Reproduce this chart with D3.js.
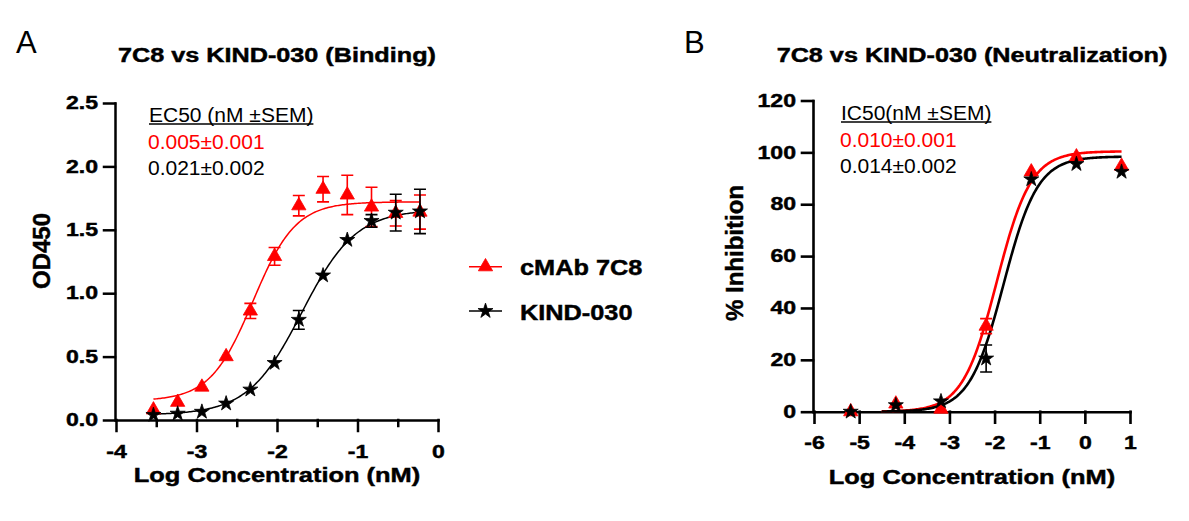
<!DOCTYPE html>
<html lang="en">
<head>
<meta charset="UTF-8">
<title>7C8 vs KIND-030</title>
<script src="https://d3js.org/d3.v7.min.js"></script>
<style>
    body, html { margin: 0; padding: 0; background: #fff; }
    svg text { font-family: "Liberation Sans", Arial, sans-serif; }
    svg text.heavy { stroke: #000; stroke-width: 0.45px; }
</style>
</head>
<body>
<div id="chart"></div>
<script>
    // Panel A - binding (OD450)
    const logConcA = [-3.535, -3.234, -2.933, -2.632, -2.331, -2.030, -1.729, -1.428, -1.127, -0.826, -0.525, -0.224];
    const odMab = [0.08, 0.14, 0.26, 0.50, 0.86, 1.29, 1.69, 1.82, 1.775, 1.68, 1.63, 1.64];
    const odMabSem = [0, 0, 0, 0, 0.06, 0.07, 0.08, 0.10, 0.155, 0.155, 0.10, 0.135];
    const odKind = [0.04, 0.05, 0.065, 0.13, 0.24, 0.45, 0.79, 1.14, 1.42, 1.57, 1.635, 1.645];
    const odKindSem = [0, 0, 0, 0, 0, 0, 0.074, 0, 0, 0.05, 0.145, 0.175];
    // 4PL fits: bottom, top, logEC50, hill
    const fitMabA = [0.15, 1.72, -2.30, 1.64];
    const fitKindA = [0.04, 1.66, -1.69, 1.30];
    const xTicksA = [-4, -3, -2, -1, 0];
    const xMinorA = [-3.5, -2.5, -1.5, -0.5];
    const yTicksA = [0, 0.5, 1.0, 1.5, 2.0, 2.5];

    // Panel B - neutralization (% inhibition)
    const logConcB = [-5.187, -4.187, -3.187, -2.187, -1.187, -0.187, 0.813];
    const inhMab = [0, 3, 1, 33, 92.5, 98.3, 94.7];
    const inhMabSem = [0, 0, 0, 2.9, 0, 0, 0];
    const inhKind = [0, 2.5, 4, 20.5, 89.6, 95.5, 92.5];
    const inhKindSem = [0, 0, 0, 5.2, 0, 0, 0];
    const fitMabB = [0, 100.4, -1.95, 1.15];
    const fitKindB = [0, 98.4, -1.80, 1.15];
    const xTicksB = [-6, -5, -4, -3, -2, -1, 0, 1];
    const yTicksB = [0, 20, 40, 60, 80, 100, 120];

    const seriesNames = ["cMAb 7C8", "KIND-030"];
    const RED = "#ff0000", BLACK = "#000";

    const svg = d3.select("#chart").append("svg")
        .attr("width", 1189)
        .attr("height", 521);

    // the bold lettering in the reference is wider than Arial, stretch it
    function stretch(sel, k) {
        sel.each(function() {
            const w = this.getComputedTextLength();
            d3.select(this).attr("textLength", w * k).attr("lengthAdjust", "spacingAndGlyphs");
        });
    }

    function fourPL(p, x) {
        return p[0] + (p[1] - p[0]) / (1 + Math.pow(10, (p[2] - x) * p[3]));
    }

    const marker = i => d3.symbol()
        .type(i === 0 ? d3.symbolTriangle : d3.symbolStar)
        .size(i === 0 ? 88 : 70);

    function drawPanel(o) {
        const x = d3.scaleLinear().domain(o.xDomain).range(o.xRange);
        const y = d3.scaleLinear().domain(o.yDomain).range(o.yRange);
        const g = svg.append("g");

        // axes
        const xAxis = g.append("g")
            .attr("transform", `translate(0,${y(0)})`)
            .call(d3.axisBottom(x).tickValues(o.xTicks).tickSize(11).tickSizeOuter(0)
                .tickPadding(14).tickFormat(d => String(d)));
        if (o.xMinor) {
            g.append("g")
                .attr("transform", `translate(0,${y(0)})`)
                .call(d3.axisBottom(x).tickValues(o.xMinor).tickSize(6).tickFormat(""))
                .call(a => a.select(".domain").remove());
        }
        const yAxis = g.append("g")
            .attr("transform", `translate(${o.xRange[0] - 1},0)`)
            .call(d3.axisLeft(y).tickValues(o.yTicks).tickSize(11).tickSizeOuter(0)
                .tickPadding(6).tickFormat(o.yFormat));

        g.selectAll(".domain, .tick line")
            .attr("stroke", "#000").attr("stroke-width", o.axisWidth).attr("stroke-linecap", "square");
        [xAxis, yAxis].forEach(a => a.attr("font-size", 18).attr("font-weight", "bold")
            .attr("font-family", "Liberation Sans, Arial, sans-serif"));
        g.selectAll(".tick text").attr("fill", "#000").attr("class", "heavy");
        stretch(g.selectAll(".tick text"), 1.28);

        // fitted curves
        const line = d3.line().x(d => x(d[0])).y(d => y(d[1]));
        o.fits.forEach((p, i) => {
            const pts = d3.range(0, 201).map(k => {
                const xv = o.curveRange[0] + (o.curveRange[1] - o.curveRange[0]) * k / 200;
                return [xv, fourPL(p, xv)];
            });
            g.append("path").attr("d", line(pts)).attr("fill", "none")
                .attr("stroke", o.colors[i]).attr("stroke-width", o.curveWidth);
        });

        // error bars + markers
        o.series.forEach((s, i) => {
            const col = o.colors[i];
            o.xs.forEach((xv, j) => {
                const sem = s.sem[j];
                if (!sem) return;
                const cx = x(xv);
                g.append("path")
                    .attr("d", `M${cx - 6},${y(s.v[j] + sem)}H${cx + 6}M${cx},${y(s.v[j] + sem)}V${y(s.v[j] - sem)}M${cx - 6},${y(s.v[j] - sem)}H${cx + 6}`)
                    .attr("stroke", col).attr("stroke-width", 1.6).attr("fill", "none");
            });
            g.selectAll(null).data(o.xs).enter().append("path")
                .attr("transform", (d, j) => `translate(${x(d)},${y(s.v[j])})`)
                .attr("d", marker(i))
                .attr("fill", col).attr("stroke", col).attr("stroke-width", 0.8);
        });

        // titles
        const cx = (o.xRange[0] + o.xRange[1]) / 2;
        const t = g.append("text").attr("x", cx).attr("y", 62).attr("text-anchor", "middle")
            .attr("class", "heavy").attr("font-size", 20).attr("font-weight", "bold").text(o.title);
        stretch(t, 1.26);
        const xt = g.append("text").attr("x", cx).attr("y", o.xTitleY).attr("text-anchor", "middle")
            .attr("class", "heavy").attr("font-size", 20).attr("font-weight", "bold")
            .text("Log Concentration (nM)");
        stretch(xt, 1.27);
        g.append("text").attr("transform", `translate(${o.yTitleX},${o.yTitleMid}) rotate(-90)`)
            .attr("class", "heavy").attr("text-anchor", "middle").attr("font-size", 24)
            .attr("font-weight", "bold").text(o.yTitle);
        g.append("text").attr("x", o.letterX).attr("y", 53).attr("font-size", 31).text(o.letter);

        // EC50 / IC50 box
        const head = g.append("text").attr("x", o.noteX).attr("y", o.noteY).attr("font-size", 20)
            .text(o.noteHead);
        stretch(head, 1.05);
        const hb = head.node().getBBox();
        g.append("line").attr("x1", hb.x).attr("x2", hb.x + hb.width)
            .attr("y1", o.noteY + 2).attr("y2", o.noteY + 2)
            .attr("stroke", "#000").attr("stroke-width", 1.4);
        o.noteVals.forEach((v, i) => {
            const n = g.append("text").attr("x", o.noteX - 1).attr("y", o.noteY + 26.5 * (i + 1))
                .attr("font-size", 20).attr("fill", o.colors[i]).text(v);
            stretch(n, 1.05);
        });
    }

    drawPanel({
        xDomain: [-4, 0], xRange: [116, 438],
        yDomain: [0, 2.5], yRange: [420, 103],
        xTicks: xTicksA, xMinor: xMinorA, yTicks: yTicksA, yFormat: d3.format(".1f"),
        xs: logConcA,
        series: [{ v: odMab, sem: odMabSem }, { v: odKind, sem: odKindSem }],
        fits: [fitMabA, fitKindA], colors: [RED, BLACK],
        curveRange: [logConcA[0], logConcA[logConcA.length - 1]], curveWidth: 1.5,
        axisWidth: 2.5,
        title: "7C8 vs KIND-030 (Binding)", xTitleY: 482,
        yTitle: "OD450", yTitleX: 50, yTitleMid: 251,
        letter: "A", letterX: 16,
        noteHead: "EC50 (nM \u00b1SEM)", noteX: 149, noteY: 122,
        noteVals: ["0.005\u00b10.001", "0.021\u00b10.002"]
    });

    drawPanel({
        xDomain: [-6, 1], xRange: [814, 1130],
        yDomain: [0, 120], yRange: [411.7, 100.5],
        xTicks: xTicksB, xMinor: null, yTicks: yTicksB, yFormat: d3.format("d"),
        xs: logConcB,
        series: [{ v: inhMab, sem: inhMabSem }, { v: inhKind, sem: inhKindSem }],
        fits: [fitMabB, fitKindB], colors: [RED, BLACK],
        curveRange: [-4.5, logConcB[logConcB.length - 1]], curveWidth: 2.6,
        axisWidth: 2.6,
        title: "7C8 vs KIND-030 (Neutralization)", xTitleY: 484,
        yTitle: "% Inhibition", yTitleX: 743, yTitleMid: 253,
        letter: "B", letterX: 684,
        noteHead: "IC50(nM \u00b1SEM)", noteX: 841, noteY: 120,
        noteVals: ["0.010\u00b10.001", "0.014\u00b10.002"]
    });

    // legend (between the panels)
    const legend = svg.append("g");
    seriesNames.forEach((name, i) => {
        const ly = 266.7 + i * 44.3;
        const col = i === 0 ? RED : BLACK;
        legend.append("line").attr("x1", 469).attr("x2", 502).attr("y1", ly).attr("y2", ly)
            .attr("stroke", col).attr("stroke-width", 1.6);
        legend.append("path").attr("transform", `translate(485.5,${ly})`)
            .attr("d", marker(i))
            .attr("fill", col).attr("stroke", col).attr("stroke-width", 0.8);
        const t = legend.append("text").attr("x", 520).attr("y", ly + 8.5).attr("class", "heavy")
            .attr("font-size", 22).attr("font-weight", "bold").text(name);
        stretch(t, 1.15);
    });
</script>
</body>
</html>
